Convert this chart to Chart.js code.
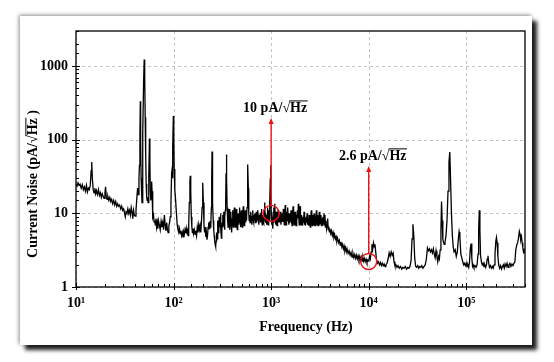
<!DOCTYPE html>
<html><head><meta charset="utf-8">
<script src="https://cdn.jsdelivr.net/npm/chart.js@4/dist/chart.umd.min.js"></script>
<style>
html,body{margin:0;padding:0;background:#fff;}
#wrap{position:relative;width:554px;height:362px;overflow:hidden;background:#fff;}
#card{position:absolute;left:20px;top:16px;width:512px;height:329px;background:#fff;
  box-shadow:5px 5px 4px rgba(0,0,0,0.88),-1px -1px 4px rgba(0,0,0,0.45);}
canvas{position:absolute;left:0;top:0;}
</style></head>
<body><div id="wrap"><div id="card"></div><canvas id="c" width="554" height="362"></canvas></div>
<script>
// ---------- data ----------
const freqA = [10,10.25,10.5,10.75,11,11.3,11.6,11.9,12.2,12.5,
  12.8,13.1,13.4,13.7,14,14.3,14.5,14.7,15,15.3,
  15.6,15.9,16.2,16.6,17,17.4,17.8,18.2,18.6,19,
  19.4,19.8,20.1,20.4,20.8,21.2,21.7,22.2,22.7,23.2,
  23.7,24.3,24.9,25.5,26.1,26.7,27.3,28,28.7,29.4,
  30.1,30.8,31.5,32,32.6,33.3,34,34.7,35.4,36.1,
  36.8,37.5,38.2,38.9,39.6,40.4,41.2];
const noiseA = [25,23.5,26,24,25,22,24.5,21,23,20,
  24,19.5,22,21,24,38,50,30,21,19,
  22,18.5,20.5,18,21,17.5,19,16.5,18.5,17,
  16,19,23,17,15.5,17,15,16.5,14.5,15.5,
  13.5,15,13,14.5,12.5,13.5,12.5,13,11.5,12.5,
  11,11.5,10,9,10.5,10,11.5,10,11,9.5,
  12,10.5,8.5,11,9.5,9.2,11];

const freqB = [42,42.8,43.5,44.2,44.7,45.2,45.6,46,46.5,47,
  47.5,48,48.6,49.3,50,50.6,51.2,51.8,52.4,53,
  53.6,54.2,54.8,55.4,56,56.6,57.2,57.8,58.4,59,
  59.6,60.2,60.8,61.5,62.3,63.1,64,65,66,67,
  68,69,70,71.5,73,74.5,76,77.5,79,80.5,
  82,83.5,85,86.5,88,89.5,91,92.5,94,95.5,
  96.5,97.5,98.5,99.5,100.5,101.5,103,105,107,109,
  111,113,115,117,119,121,123,125,127,129,
  131,133,135,137,139,141,143,145,147,148.5,
  150,152,154,156,158,160,163,166,169,172,
  175,178,181,184,187,190,193,196,198];
const noiseB = [16,22,18,30,45,120,334,90,30,20,
  14,30,120,600,1230,700,200,60,25,17,
  15,16.5,14,15,30,104,50,20,15,17,
  27,20,12,8.8,9.5,7.7,8,7,8.5,6.5,
  7.5,6.2,8,7,6,7.8,6.5,7.5,6,9.5,
  7,5.8,7.5,6,5.5,6.8,7.5,9,14,35,
  39,30,80,210,120,40,21,15,10,7,
  6,5.5,6.2,5.3,5.8,5,5.5,4.8,5.6,5.2,
  6,5.4,6.2,5.2,5.8,5,7,14,28,32.5,
  20,9,6.5,5.5,6.2,5.3,6,5.2,5.8,5,
  6.5,5.5,7,6,6.8,5.5,7.5,12,20];

const freqC = [200,202,205,208,211,214,217,220,223,226,
  229,232,235,238,241,244,246,248,250,252,
  255,258,261,264,267,270,273,276,279,282,
  285,288,291,294,297,300,303,306,309,312,
  315,318,321,324,327,330,333,336,339,342,
  345,348,351,354,358,362,366,370,374,378,
  382,386,390,394,398,402,406,410,415,420,
  425,430,435,440,445,450,455,460,465,470,
  475,480,485,490,495,500,506,512,518,524,
  530,536,542,548,554,560,566,572,578,584,
  590,596,602,608,614,620,627,634,641,648,
  655,662,669,676,683,690,697,704,711,718,
  725,732,740,748,756,764,772,780,788,796,
  804,812,820,828,836,844,852,860,868,876,
  884,892,900,908,916,924,932,940,948,956,
  964,972,980,988,996];
const noiseC = [26,14,7,5.5,6.5,4.8,5.5,4.4,5,6.5,
  7.5,6.2,7.8,6.5,7,12,30,69,40,14,
  8,6,5,4.2,3.8,3.55,4.2,5.5,4.5,6.5,
  8,5.5,7,9,6.5,8.5,10,6.2,4.6,5.5,
  7.5,9.5,6.5,8.5,10.5,7,6,9,11,14,
  35,63,30,12,8,6.5,9,11.5,7.5,6,
  8,10.5,7,5.5,8.5,11,7.5,6.5,9.5,12,
  8,6.5,9,11.5,7.5,6,8.5,10,7,8.5,
  12,8,6.5,9,11,7.5,6.5,9.5,12.5,8,
  6.8,9,11,7.5,9.5,8,12,25,46,22,
  10,8,9.5,7.5,9,10.5,8,7,9,11,
  8,7.5,9.5,8,10,7.5,8.5,10.5,7.5,9,
  8,11,8.5,7,9.5,8,10,7.5,9,11.5,
  8,7,9.5,8,10.5,7.5,9,14,8.5,7.5,
  10,8,7,9.5,12,8.5,7,9,11,8,
  9.5,14,30,45,20];

const freqD = [1004,1012,1020,1030,1040,1050,1060,1070,1080,1090,
  1100,1110,1120,1130,1140,1150,1160,1170,1180,1190,
  1200,1215,1230,1245,1260,1275,1290,1305,1320,1335,
  1350,1365,1380,1395,1410,1425,1440,1455,1470,1485,
  1500,1520,1540,1560,1580,1600,1620,1640,1660,1680,
  1700,1720,1740,1760,1780,1800,1820,1840,1860,1880,
  1900,1920,1940,1960,1980,2000,2025,2050,2075,2100,
  2125,2150,2175,2200,2225,2250,2280,2310,2340,2370,
  2400,2430,2460,2490,2520,2550,2580,2610,2640,2670,
  2700,2730,2760,2790,2820,2850,2880,2910,2940,2970,
  3000,3040,3080,3120,3160,3200,3240,3280,3320,3360,
  3400,3440,3480,3520,3560,3600,3650,3700,3750,3800,
  3850,3900,3950,4000,4080,4160,4240,4320,4400,4480,
  4560,4640,4720,4800,4900,5000,5100,5200,5300,5400,
  5500,5600,5700,5800,5900,6000,6150,6300,6450,6600,
  6750,6900,7050,7200,7350,7500,7650,7800,7950,8100,
  8250,8400,8550,8700,8850,9000,9200,9400,9600,9800];
const noiseD = [9.5,7,10.5,8,6.2,9,12,7.5,9.5,13.5,
  9,7,8.5,10.5,7.5,6.8,9,8.5,11,7.5,
  8,9.5,7.5,10.5,7,8.5,10,7.8,9,11.5,
  8.5,7,9.5,13,9,7,10.5,8,9.5,12,
  8.5,7,10,7.5,9,11,7.5,6.8,9.5,12.5,
  8.5,7,9,10.5,7.5,6.8,9.5,8,11,8.5,
  13.5,9,7,10,12.5,9,7,9.5,7.5,6.8,
  9,7.5,10.5,7,8.5,6.8,9,7.5,10,7,
  8.5,6.8,9.5,7.5,6.5,9,11,7.5,6.8,9.5,
  7,8.5,10,7,6.8,9,7.5,11,7.8,7,
  9.5,6.8,8.5,10.5,7,8,9.5,6.8,8.5,7,
  9,7.5,10,7,9.5,6.5,8,6.2,7,8.5,
  6,6.6,5.6,6.2,5.3,5.8,5,5.5,4.7,5.1,
  4.5,4.8,4.2,4.6,4,4.3,3.7,4.1,3.5,3.8,
  3.3,3.6,3.1,3.4,3,3.3,2.85,3.1,2.7,2.95,
  2.55,2.85,2.5,2.75,2.45,2.7,2.4,2.65,2.35,2.6,
  2.3,2.55,2.25,2.5,2.25,2.45,2.2,2.4,2.15,2.3];

const freqE = [10000,10200,10400,10600,10800,11000,11200,11400,11600,11800,
  12000,12300,12600,12900,13200,13500,13800,14100,14400,14700,
  15000,15400,15800,16200,16600,17000,17400,17800,18200,18600,
  19000,19500,20000,20600,21200,21800,22400,23000,23700,24400,
  25100,25800,26500,27200,27800,28400,29000,29600,30300,31000,
  31800,32600,33400,34200,35000,36000,37000,38000,39000,40000,
  41000,42000,43000,44000,45000,46000,47000,48000,49000,50000,
  51000,52000,53000,54000,55000,55800,56600,57500,58500,59500,
  60500,62000,63500,65000,66500,67800,69000,70500,72000,73500,
  75000,77000,79000,81000,83000,84500,86000,88000,90000,92000,
  94000,96000,98000,100000,102000,104000,106000,108000,110000,112000,
  114000,116000,118000,120000,123000,126000,129000,132000,134000,136000,
  138000,140000,143000,146000,149000,152000,155000,158000,161000,164000,
  167000,170000,173000,177000,181000,185000,189000,193000,197000,201000,
  204000,207000,211000,215000,220000,225000,230000,235000,240000,245000,
  250000,256000,262000,268000,274000,280000,287000,294000,301000,308000,
  315000,322000,329000,336000,343000,350000,356000,362000,368000,374000,
  380000,386000,392000,400000];
const noiseE = [2.25,2.6,2.4,3,3.8,3.3,3.95,3.5,3.8,3,
  2.4,2.1,2.2,2,2.15,1.95,2.1,1.95,2.05,1.9,
  2,2.1,2.4,2.9,2.6,3,2.7,2.9,2.2,1.95,
  2,1.85,1.95,1.8,1.9,1.75,1.85,1.8,1.9,1.75,
  1.85,1.8,1.9,2.3,4.5,7.1,5,2.5,1.9,1.85,
  1.95,1.8,1.9,1.85,1.95,1.8,1.9,2,2.4,3.4,
  3.1,3.3,3,3.2,2.9,3.3,2.8,2.5,3.1,2.6,
  2.2,2.6,2.4,3.2,6,14.5,8,4.5,4,3.8,
  4,5,8,20,50,68,30,10,5,3.5,
  3,3.2,2.6,3,4.5,5.6,4.8,2.8,2.5,2.2,
  2,2.1,1.95,2.1,1.9,2,1.85,2.2,3.3,3.9,
  2.5,1.9,2,1.85,1.95,1.85,2,2.8,6,11,
  6,2.7,2.2,2,2.1,1.9,2,1.85,2,2.4,
  2.65,2.1,1.85,1.95,1.8,1.9,1.8,2,2.8,4.2,
  4.7,4,2.6,2,1.8,1.95,1.75,1.9,2,1.8,
  2.05,1.9,2.1,1.85,2,2.1,1.9,2.05,1.95,2.1,
  2.2,3.2,3.7,4,4.6,5.7,5.2,4.4,4.8,4,
  3.4,3,3.2,2.9];

// axis tick labels
const xTickValues = [10, 100, 1000, 10000, 100000];
const xTickLabels = ['10\u00B9', '10\u00B2', '10\u00B3', '10\u2074', '10\u2075'];
const yTickValues = [1, 10, 100, 1000];
const yTickLabels = ['1', '10', '100', '1000'];

// annotations: marked points, arrow tips and labels
const markerFreq = [1000, 10000];
const markerNoise = [10, 2.22];
const arrowTipNoise = [197, 44];
const markerLabelPrefix = ['10 pA/', '2.6 pA/'];
const markerLabelRoot = ['Hz', 'Hz'];

// ---------- chart ----------
const freqHz = [].concat(freqA, freqB, freqC, freqD, freqE);
const noise = [].concat(noiseA, noiseB, noiseC, noiseD, noiseE);
const points = freqHz.map((f, i) => ({x: f, y: noise[i]}));

const FONT = '"Liberation Serif","Times New Roman",serif';
const RED = '#f01010';
const pick = (vals, labels) => v => {
  const i = vals.findIndex(t => Math.abs(t - v) / t < 1e-6);
  return i >= 0 ? labels[i] : '';
};
const isMajor = v => { const l = Math.log10(v); return Math.abs(l - Math.round(l)) < 1e-6; };

function drawRoot(ctx, prefix, root, cx, baseY, size) {
  ctx.font = 'bold ' + size + 'px ' + FONT;
  ctx.textAlign = 'left';
  ctx.textBaseline = 'alphabetic';
  const full = prefix + '\u221A' + root;
  const w = ctx.measureText(full).width;
  const x0 = cx - w / 2;
  ctx.fillText(full, x0, baseY);
  const wPre = ctx.measureText(prefix + '\u221A').width;
  const yTop = baseY - size * 0.76;
  ctx.beginPath();
  ctx.lineWidth = 1;
  ctx.moveTo(x0 + wPre - 0.8, yTop);
  ctx.lineTo(x0 + w + 0.5, yTop);
  ctx.stroke();
  return w;
}

const decor = {
  id: 'decor',
  beforeDatasetsDraw(chart) {
    const {ctx, chartArea: a, scales: {x, y}} = chart;
    ctx.save();
    ctx.strokeStyle = '#bdbdbd';
    ctx.lineWidth = 0.9;
    ctx.setLineDash([3, 3]);
    x.ticks.forEach(t => {
      if (!isMajor(t.value)) return;
      const px = Math.round(x.getPixelForValue(t.value)) + 0.5;
      ctx.beginPath(); ctx.moveTo(px, a.top); ctx.lineTo(px, a.bottom); ctx.stroke();
    });
    y.ticks.forEach(t => {
      if (!isMajor(t.value)) return;
      const py = Math.round(y.getPixelForValue(t.value)) + 0.5;
      ctx.beginPath(); ctx.moveTo(a.left, py); ctx.lineTo(a.right, py); ctx.stroke();
    });
    ctx.restore();
  },
  afterDatasetsDraw(chart) {
    const {ctx, chartArea: a, scales: {x, y}} = chart;
    ctx.save();
    // frame
    ctx.strokeStyle = '#000';
    ctx.lineWidth = 1.3;
    ctx.strokeRect(a.left, a.top, a.right - a.left, a.bottom - a.top);
    // tick marks
    ctx.lineWidth = 1;
    x.ticks.forEach(t => {
      const px = Math.round(x.getPixelForValue(t.value)) + 0.5;
      const maj = isMajor(t.value);
      ctx.beginPath();
      ctx.moveTo(px, a.bottom + (maj ? 3 : 0));
      ctx.lineTo(px, a.bottom - (maj ? 4 : 3));
      ctx.stroke();
    });
    y.ticks.forEach(t => {
      const py = Math.round(y.getPixelForValue(t.value)) + 0.5;
      const maj = isMajor(t.value);
      ctx.beginPath();
      ctx.moveTo(a.left - (maj ? 4 : 0), py);
      ctx.lineTo(a.left + (maj ? 4 : 3), py);
      ctx.stroke();
    });
    // annotations
    ctx.strokeStyle = RED;
    ctx.fillStyle = RED;
    markerFreq.forEach((f, i) => {
      const cx = x.getPixelForValue(f);
      const cy = y.getPixelForValue(markerNoise[i]);
      const r = 8;
      ctx.lineWidth = 1.4;
      ctx.beginPath(); ctx.arc(cx, cy, r, 0, Math.PI * 2); ctx.stroke();
      const ty = y.getPixelForValue(arrowTipNoise[i]);
      ctx.beginPath(); ctx.moveTo(cx, cy - r); ctx.lineTo(cx, ty + 5); ctx.stroke();
      ctx.beginPath();
      ctx.moveTo(cx, ty); ctx.lineTo(cx - 2.5, ty + 6); ctx.lineTo(cx + 2.5, ty + 6);
      ctx.closePath(); ctx.fill();
    });
    ctx.fillStyle = '#000';
    ctx.strokeStyle = '#000';
    markerFreq.forEach((f, i) => {
      const cx = x.getPixelForValue(f);
      const ty = y.getPixelForValue(arrowTipNoise[i]);
      drawRoot(ctx, markerLabelPrefix[i], markerLabelRoot[i], cx + 4, ty - 6.5, 14);
    });
    // axis titles
    ctx.font = 'bold 14px ' + FONT;
    ctx.textAlign = 'center';
    ctx.textBaseline = 'alphabetic';
    ctx.fillText('Frequency (Hz)', 306, 331);
    ctx.save();
    ctx.translate(36.5, 184);
    ctx.rotate(-Math.PI / 2);
    const pre = 'Current Noise (pA/\u221A';
    const full = pre + 'Hz )';
    const w = ctx.measureText(full).width;
    ctx.textAlign = 'left';
    ctx.fillText(full, -w / 2, 0);
    const wPre = ctx.measureText(pre).width;
    const wHz = ctx.measureText('Hz').width;
    ctx.lineWidth = 1;
    ctx.beginPath();
    ctx.moveTo(-w / 2 + wPre - 0.8, -14 * 0.76);
    ctx.lineTo(-w / 2 + wPre + wHz + 0.5, -14 * 0.76);
    ctx.stroke();
    ctx.restore();
    ctx.restore();
  }
};

const tickFont = {family: FONT, size: 14, weight: 'bold'};
new Chart(document.getElementById('c'), {
  type: 'line',
  data: {datasets: [{
    data: points,
    borderColor: '#000',
    borderWidth: 1.3,
    pointRadius: 0,
    tension: 0,
    fill: false
  }]},
  options: {
    responsive: false,
    devicePixelRatio: 1,
    animation: false,
    layout: {padding: {left: 0, right: 29, top: 31, bottom: 0}},
    plugins: {legend: {display: false}, tooltip: {enabled: false}},
    scales: {
      x: {
        type: 'logarithmic', min: 10, max: 400000,
        grid: {display: false, drawTicks: false},
        border: {display: false},
        ticks: {autoSkip: false, maxRotation: 0, minRotation: 0, padding: 8,
          font: tickFont, color: '#000', callback: pick(xTickValues, xTickLabels)},
        afterFit: s => { s.height = 75; }
      },
      y: {
        type: 'logarithmic', min: 1, max: 3000,
        grid: {display: false, drawTicks: false},
        border: {display: false},
        ticks: {autoSkip: false, padding: 8,
          font: tickFont, color: '#000', callback: pick(yTickValues, yTickLabels)},
        afterFit: s => { s.width = 76; }
      }
    }
  },
  plugins: [decor]
});
</script>
</body></html>
